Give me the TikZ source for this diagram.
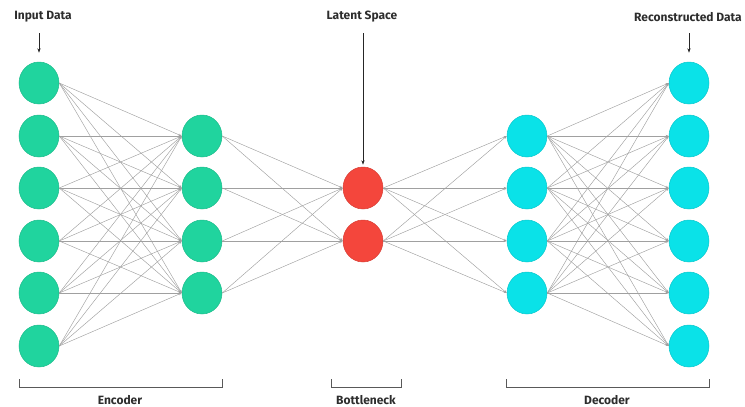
\documentclass[tikz,border=0pt]{standalone}
\usepackage{fontspec}
\setmainfont{Fira Sans}
\usetikzlibrary{shapes.geometric,arrows.meta}
\definecolor{encgreen}{RGB}{32,212,158}
\definecolor{botred}{RGB}{244,70,60}
\definecolor{deccyan}{RGB}{10,226,232}
\definecolor{linkgray}{RGB}{160,160,160}
\definecolor{labelgray}{RGB}{45,45,45}
\begin{document}
\begin{tikzpicture}[x=1pt,y=-1pt,
  neuron/.style={ellipse,minimum width=40pt,minimum height=42pt,inner sep=0pt,line width=0.5pt},
  enc/.style={neuron,fill=encgreen,draw=encgreen!88!black},
  bott/.style={neuron,fill=botred,draw=botred!88!black},
  dec/.style={neuron,fill=deccyan,draw=deccyan!88!black},
  link/.style={draw=linkgray,line width=0.45pt,-{Stealth[length=3.2pt,width=2.4pt]}},
  lbl/.style={font=\bfseries\fontsize{12}{14}\selectfont,text=labelgray,inner sep=0pt},
  ptr/.style={draw=black!85,line width=0.7pt,-{Stealth[length=4.5pt,width=3.2pt]}},
  brk/.style={draw=black!65,line width=0.9pt}]
\useasboundingbox (0,0) rectangle (745,407);
% nodes
\foreach \i/\y in {1/83,2/136,3/188,4/241,5/293,6/346}{
  \node[enc] (a\i) at (39,\y) {};
  \node[dec] (e\i) at (689,\y) {};
}
\foreach \i/\y in {1/136,2/188,3/241,4/293}{
  \node[enc] (b\i) at (202,\y) {};
  \node[dec] (d\i) at (527,\y) {};
}
\foreach \i/\y in {1/188,2/241}{
  \node[bott] (c\i) at (363,\y) {};
}
% connections
\foreach \i in {1,...,6}{\foreach \j in {1,...,4}{\draw[link] (a\i.east) -- (b\j.west);}}
\foreach \i in {1,...,4}{\foreach \j in {1,2}{\draw[link] (b\i.east) -- (c\j.west);}}
\foreach \i in {1,2}{\foreach \j in {1,...,4}{\draw[link] (c\i.east) -- (d\j.west);}}
\foreach \i in {1,...,4}{\foreach \j in {1,...,6}{\draw[link] (d\i.east) -- (e\j.west);}}
% top labels and pointers
\node[lbl] (inlbl) at (43,17) {Input Data};
\node[lbl] (latlbl) at (362,17) {Latent Space};
\node[lbl] (reclbl) at (688,17) {Reconstructed Data};
\coordinate (inptr) at (39,33);
\coordinate (latptr) at (363,33);
\coordinate (recptr) at (689,33);
\draw[ptr,shorten >=9pt] (inptr) -- (a1.north);
\draw[ptr,shorten >=2pt] (latptr) -- (c1.north);
\draw[ptr,shorten >=9pt] (recptr) -- (e1.north);
% brackets
\coordinate (encL) at (19,379); \coordinate (encR) at (222,379);
\coordinate (botL) at (331,379); \coordinate (botR) at (401,379);
\coordinate (decL) at (506,379); \coordinate (decR) at (709,379);
\draw[brk] (encL) -- ++(0,8) -| (encR);
\draw[brk] (botL) -- ++(0,8) -| (botR);
\draw[brk] (decL) -- ++(0,8) -| (decR);
\node[lbl] (enclbl) at (120,400) {Encoder};
\node[lbl] (botlbl) at (366,400) {Bottleneck};
\node[lbl] (declbl) at (607,400) {Decoder};
\end{tikzpicture}
\end{document}
